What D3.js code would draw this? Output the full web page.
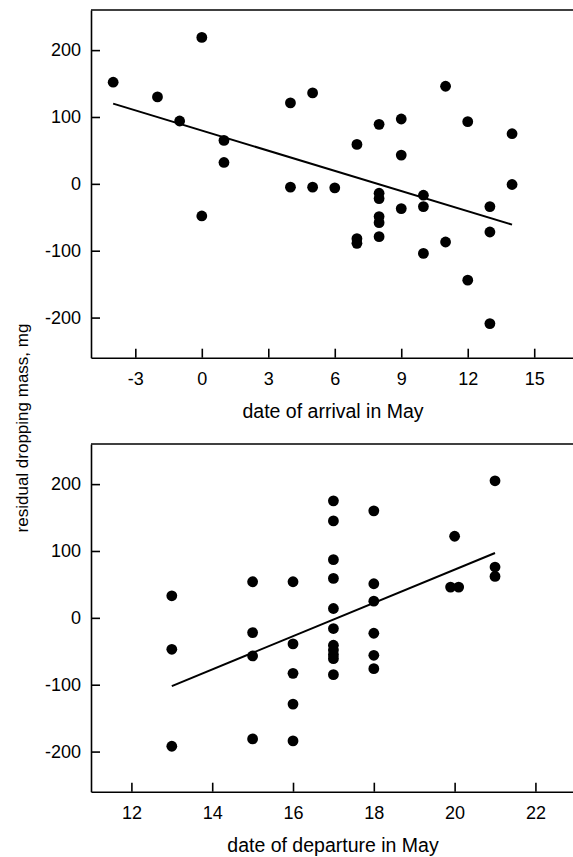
<!DOCTYPE html>
<html>
<head>
<meta charset="utf-8">
<script src="https://cdn.jsdelivr.net/npm/d3@7"></script>
<style>
  html, body { margin: 0; padding: 0; background: #fff; }
  svg { display: block; }
  text { font-family: "Liberation Sans", Arial, Helvetica, sans-serif; fill: #000; }
</style>
</head>
<body>
<svg id="chart" width="573" height="857"></svg>
<script>
// ---- data ----
const arrivalX = [-4, -2, -1, 0, 0, 1, 1, 4, 4, 5, 5, 6, 7, 7, 7, 8, 8, 8, 8, 8, 8, 9, 9, 9, 10, 10, 10, 11, 11, 12, 12, 13, 13, 13, 14, 14];
const arrivalY = [152, 130, 94, 219, -48, 65, 32, 121, -5, 136, -5, -6, 59, -82, -89, 89, -14, -22, -49, -58, -79, 97, 43, -37, -17, -34, -104, 146, -87, 93, -144, -34, -72, -209, 75, -1];
const arrivalFitX = [-4, 14];
const arrivalFitY = [120, -61];

const departureX = [13, 13, 13, 15, 15, 15, 15, 16, 16, 16, 16, 16, 17, 17, 17, 17, 17, 17, 17, 17, 17, 17, 17, 18, 18, 18, 18, 18, 18, 19.9, 20, 20.1, 21, 21, 21];
const departureY = [33, -47, -192, 54, -22, -57, -181, 54, -39, -83, -129, -184, 175, 145, 87, 59, 14, -16, -41, -48, -55, -61, -85, 160, 51, 25, -23, -56, -76, 46, 122, 46, 205, 76, 62];
const departureFitX = [13, 21];
const departureFitY = [-102, 97];

const arrivalTicks = [-3, 0, 3, 6, 9, 12, 15];
const departureTicks = [12, 14, 16, 18, 20, 22];
const massTicks = [-200, -100, 0, 100, 200];

const arrivalTitle = "date of arrival in May";
const departureTitle = "date of departure in May";
const yTitle = "residual dropping mass, mg";

// ---- drawing ----
const svg = d3.select("#chart");
const W = 573, L = 91;
const fmt = d => (d < 0 ? "-" + Math.abs(d) : String(d));

function panel(cfg) {
  const x = d3.scaleLinear().domain(cfg.xDomain).range([L, W]);
  const y = d3.scaleLinear().domain([-260, 260]).range([cfg.bottom, cfg.top]);
  const g = svg.append("g");

  // top border
  g.append("line")
    .attr("x1", L).attr("x2", W)
    .attr("y1", y(260)).attr("y2", y(260))
    .attr("stroke", "#000").attr("stroke-width", 1.6);

  const xa = g.append("g")
    .attr("transform", `translate(0,${y(-260)})`)
    .call(d3.axisBottom(x).tickValues(cfg.xTicks).tickFormat(fmt)
      .tickSizeInner(-9).tickSizeOuter(0).tickPadding(15));
  xa.selectAll("path, line").attr("stroke", "#000").attr("stroke-width", 1.6);
  xa.selectAll("text").attr("font-size", 18).attr("font-family", null);

  const ya = g.append("g")
    .attr("transform", `translate(${L},0)`)
    .call(d3.axisLeft(y).tickValues(massTicks).tickFormat(fmt)
      .tickSizeInner(-9).tickSizeOuter(0).tickPadding(10));
  ya.selectAll("path, line").attr("stroke", "#000").attr("stroke-width", 1.6);
  ya.selectAll("text").attr("font-size", 18).attr("font-family", null);

  // fit line
  g.append("line")
    .attr("x1", x(cfg.fitX[0])).attr("y1", y(cfg.fitY[0]))
    .attr("x2", x(cfg.fitX[1])).attr("y2", y(cfg.fitY[1]))
    .attr("stroke", "#000").attr("stroke-width", 2);

  // points
  g.selectAll("circle.pt")
    .data(cfg.xs.map((v, i) => [v, cfg.ys[i]]))
    .join("circle")
    .attr("class", "pt")
    .attr("cx", d => x(d[0]))
    .attr("cy", d => y(d[1]))
    .attr("r", 5.4)
    .attr("fill", "#000");

  // x title
  g.append("text")
    .attr("x", 333)
    .attr("y", y(-260) + 60.5)
    .attr("text-anchor", "middle")
    .attr("font-size", 19.5)
    .text(cfg.title);
}

panel({
  xDomain: [-5, 16.75], xTicks: arrivalTicks,
  top: 10, bottom: 357.7,
  xs: arrivalX, ys: arrivalY,
  fitX: arrivalFitX, fitY: arrivalFitY,
  title: arrivalTitle
});

panel({
  xDomain: [11, 22.93], xTicks: departureTicks,
  top: 444, bottom: 791.7,
  xs: departureX, ys: departureY,
  fitX: departureFitX, fitY: departureFitY,
  title: departureTitle
});

svg.append("text")
  .attr("transform", "translate(28,428) rotate(-90)")
  .attr("text-anchor", "middle")
  .attr("font-size", 17)
  .text(yTitle);
</script>
</body>
</html>
